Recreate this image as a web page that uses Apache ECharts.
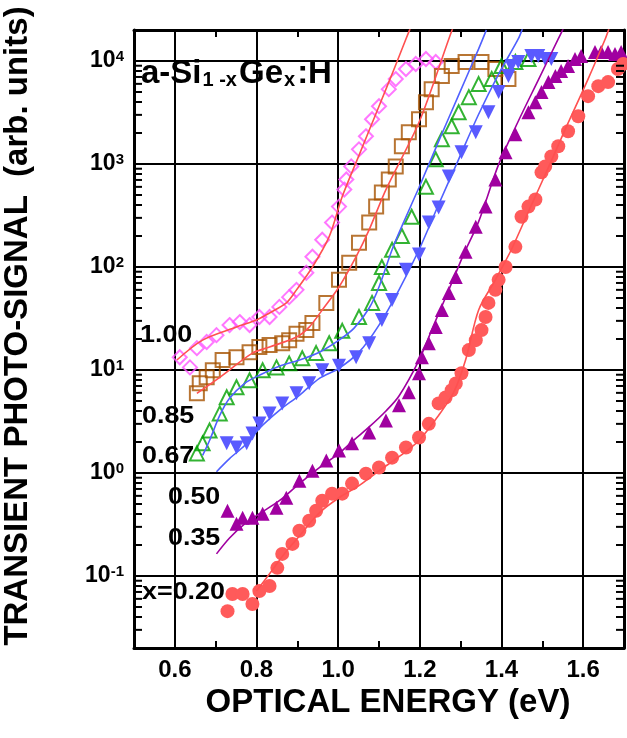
<!DOCTYPE html>
<html>
<head>
<meta charset="utf-8">
<script src="https://cdn.jsdelivr.net/npm/echarts@6/dist/echarts.min.js"></script>
<style>
html,body{margin:0;padding:0;background:#fff;}
#chart{width:627px;height:738px;}
</style>
</head>
<body>
<div id="chart"></div>
<script>
// ---- data (x = optical energy in eV, y = signal) ----
const pinkX = [0.612,0.637,0.654,0.678,0.702,0.734,0.759,0.783,0.807,0.832,0.856,0.880,0.898,0.922,0.937,0.961,0.985,1.002,1.015,1.020,1.032,1.051,1.068,1.083,1.100,1.124,1.141,1.166,1.190,1.215,1.239];
const pinkY = [13.3,10.6,16.3,18.7,21.8,27.3,29.2,27.3,32.7,32.7,41,51,60,88,126,184,270,386,565,708,948,1388,1857,2721,3642,5333,6680,8360,9360,10450,9780];

const brownX = [0.654,0.661,0.678,0.693,0.717,0.751,0.783,0.807,0.832,0.863,0.880,0.898,0.922,0.937,0.971,1.002,1.027,1.051,1.076,1.093,1.107,1.124,1.141,1.156,1.173,1.198,1.215,1.229,1.254,1.278,1.312,1.351,1.385,1.417];
const brownY = [5.94,7.43,8.5,9.96,12.5,13.3,14.9,16.7,17.5,18.2,19.5,22.5,24.4,28.6,44.8,75,110,172,270,386,529,708,948,1486,2033,2720,3980,5330,7140,8940,9780,9780,8360,6680];

const greenX = [0.654,0.668,0.685,0.710,0.727,0.751,0.783,0.815,0.849,0.880,0.912,0.946,0.978,1.010,1.051,1.083,1.100,1.107,1.132,1.156,1.180,1.215,1.239,1.254,1.278,1.295,1.320,1.344,1.376,1.400,1.434,1.466];
const greenY = [1.55,1.94,2.59,3.79,5.43,6.8,7.96,9.96,10.6,11.6,13.0,14.6,18.2,24,32.7,44.8,70,100,147,200,308,600,1110,1738,2328,3185,4457,5970,6680,8940,9780,10450];

const blueX = [0.727,0.751,0.776,0.790,0.807,0.832,0.863,0.898,0.929,0.961,1.002,1.044,1.076,1.107,1.132,1.166,1.198,1.222,1.246,1.271,1.302,1.337,1.368,1.393,1.417,1.424,1.441,1.473,1.490,1.507,1.522];
const blueY = [1.94,1.77,1.94,2.42,3.03,3.79,4.74,5.94,7.43,9.96,11,13.3,18.2,30.6,47.9,94,132,270,378,757,1297,2033,3185,4990,7140,8940,9780,11190,11190,10450,10450];

const purpleX = [0.729,0.751,0.766,0.790,0.815,0.849,0.873,0.905,0.937,0.971,1.002,1.034,1.076,1.117,1.149,1.173,1.198,1.205,1.222,1.239,1.254,1.271,1.288,1.312,1.337,1.361,1.385,1.410,1.434,1.466,1.483,1.498,1.515,1.532,1.546,1.563,1.580,1.595,1.629,1.644,1.661,1.678,1.693];
const purpleY = [0.43,0.321,0.367,0.367,0.402,0.46,0.575,0.843,1.05,1.32,1.65,1.94,2.48,3.24,4.54,6.08,9.3,13.3,18.2,26.1,38.3,56,80,141,246,386,708,1297,1945,3185,3980,4990,6240,7140,8000,8940,10450,11190,12250,12250,12250,11700,12250];

const salmonX = [0.729,0.741,0.766,0.790,0.807,0.832,0.851,0.863,0.888,0.905,0.929,0.946,0.961,0.985,1.010,1.034,1.068,1.100,1.132,1.166,1.198,1.222,1.246,1.263,1.278,1.288,1.302,1.320,1.337,1.351,1.361,1.368,1.385,1.393,1.410,1.434,1.449,1.466,1.483,1.498,1.507,1.522,1.539,1.563,1.588,1.612,1.637,1.661,1.685,1.698];
const salmonY = [0.0456,0.0668,0.0668,0.0534,0.0714,0.080,0.12,0.164,0.205,0.275,0.344,0.43,0.538,0.63,0.63,0.789,0.986,1.13,1.41,1.77,2.21,3.0,4.74,5.4,6.35,7.4,9.3,15.6,19.5,24.4,32.7,44.8,60,75,100,157,308,386,452,830,948,1186,1486,2080,2911,4560,5700,6240,8360,9360];

// fitted curves
const pinkFitX = [0.605,0.668,0.751,0.800,0.832,0.873,0.898,0.937,0.978,1.010,1.051,1.100,1.137,1.166,1.176];
const pinkFitY = [12.5,19.5,26.1,30.6,35.8,44.8,60,100,197,483,1213,3640,8360,16370,20500];
const brownFitX = [0.654,0.710,0.790,0.832,0.898,0.929,0.961,1.002,1.044,1.076,1.117,1.198,1.271,1.280];
const brownFitY = [5.94,8.5,14.6,16.7,20.9,26.1,38.3,64,126,231,565,2540,16370,20500];
const greenFitX = [0.668,0.685,0.710,0.734,0.771,0.807,0.856,0.905,0.954,1.002,1.039,1.076,1.100,1.132,1.161,1.198,1.246,1.295,1.344,1.363];
const greenFitY = [1.48,2.07,3.62,5.31,7.43,8.9,10.9,12.5,14.9,19.5,25.5,40,64,147,276,592,1660,4670,13100,20050];
const blueFitX = [0.702,0.734,0.771,0.807,0.856,0.905,0.954,1.002,1.051,1.100,1.149,1.198,1.246,1.295,1.344,1.393,1.441,1.451];
const blueFitY = [1.03,1.38,1.85,2.71,4.06,5.68,8.3,10.4,14.9,27.3,60,147,404,1110,3040,7460,16370,20500];
const purpleFitX = [0.702,0.734,0.771,0.807,0.856,0.905,0.954,1.002,1.039,1.076,1.117,1.149,1.198,1.234,1.271,1.307,1.344,1.393,1.441,1.490,1.539,1.551];
const purpleFitY = [0.164,0.234,0.321,0.402,0.538,0.789,1.13,1.55,2.1,2.8,4.0,5.6,12.5,27.3,60,132,276,991,2600,6530,16370,20500];
const salmonFitX = [0.800,0.832,0.868,0.905,0.954,1.002,1.051,1.100,1.149,1.198,1.246,1.283,1.312,1.344,1.385,1.424,1.466,1.515,1.556,1.612,1.654,1.663];
const salmonFitY = [0.0714,0.105,0.164,0.245,0.411,0.575,0.753,1.05,1.44,2.07,3.62,6.08,12.5,38.3,75,147,345,927,2170,6680,16370,20500];

// axis tick values
const yMinorTicks = [0.03,0.04,0.05,0.06,0.07,0.08,0.09,0.2,0.3,0.4,0.5,0.6,0.7,0.8,0.9,2,3,4,5,6,7,8,9,20,30,40,50,60,70,80,90,200,300,400,500,600,700,800,900,2000,3000,4000,5000,6000,7000,8000,9000];
const curveLabels = ['1.00','0.85','0.67','0.50','0.35','x=0.20'];

const FONT = '"Liberation Sans", Arial, Helvetica, sans-serif';
const zip = (a, b) => a.map((v, i) => [v, b[i]]);

function scatter(name, xs, ys, symbol, color, hollow, rotate) {
  return {
    name, type: 'scatter', data: zip(xs, ys), symbol, symbolSize: 14,
    symbolRotate: rotate || 0, z: 2, silent: true,
    itemStyle: hollow ? {color: 'rgba(0,0,0,0)', borderColor: color, borderWidth: 2}
                      : {color: color, opacity: 1}
  };
}
function fit(name, xs, ys, color) {
  return {
    name, type: 'line', data: zip(xs, ys), showSymbol: false, symbol: 'none',
    smooth: 0.3, z: 3, silent: true, lineStyle: {color: color, width: 1.6}
  };
}

const chart = echarts.init(document.getElementById('chart'), null, {renderer: 'canvas'});
const tickAxis = (pos) => ({
  type: 'value', min: 0.5, max: 1.7, interval: 0.1, position: pos,
  axisLine: {show: pos === 'top', onZero: false, lineStyle: {color: '#000', width: 3}},
  axisTick: {show: true, inside: true, length: 7, lineStyle: {color: '#000', width: 2}},
  axisLabel: {show: false}, splitLine: {show: false}
});

const option = {
  animation: false,
  backgroundColor: '#fff',
  grid: {left: 134, right: 0, top: 30, bottom: 90},
  xAxis: [
    {
      type: 'value', min: 0.5, max: 1.7, splitNumber: 6, position: 'bottom',
      axisLine: {show: true, onZero: false, lineStyle: {color: '#000', width: 3}},
      axisTick: {show: false},
      splitLine: {show: true, lineStyle: {color: '#000', width: 2}},
      axisLabel: {
        color: '#000', fontSize: 24, fontWeight: 'bold', fontFamily: FONT, margin: 10,
        formatter: v => (Math.abs(v * 5 - Math.round(v * 5)) < 1e-6) ? v.toFixed(1) : ''
      }
    },
    tickAxis('top'),
    tickAxis('bottom')
  ],
  yAxis: [
    {
      type: 'log', logBase: 10, min: 0.02, max: 20000, position: 'left',
      axisLine: {show: true, onZero: false, lineStyle: {color: '#000', width: 3}},
      axisTick: {show: false},
      splitLine: {show: true, lineStyle: {color: '#000', width: 2}},
      axisLabel: {
        color: '#000', fontSize: 23, fontWeight: 'bold', fontFamily: FONT, margin: 10, lineHeight: 24,
        formatter: v => {
          const l = Math.log10(v), e = Math.round(l);
          if (Math.abs(l - e) > 1e-6) return '';
          return '10{s|' + e + '}';
        },
        rich: {s: {fontSize: 15, fontWeight: 'bold', fontFamily: FONT, color: '#000', verticalAlign: 'top', lineHeight: 24}}
      }
    },
    {
      type: 'log', logBase: 10, min: 0.02, max: 20000, position: 'right',
      axisLine: {show: true, onZero: false, lineStyle: {color: '#000', width: 3}},
      axisTick: {show: false}, axisLabel: {show: false}, splitLine: {show: false}
    }
  ],
  series: [
    scatter('x=1.00', pinkX, pinkY, 'diamond', '#ff55ff', true),
    scatter('x=0.85', brownX, brownY, 'rect', '#a65200', true),
    scatter('x=0.67', greenX, greenY, 'triangle', '#00a000', true),
    scatter('x=0.50', blueX, blueY, 'triangle', '#5a5aff', false, 180),
    scatter('x=0.35', purpleX, purpleY, 'triangle', '#a000a0', false),
    scatter('x=0.20', salmonX, salmonY, 'circle', '#ff5a5a', false),
    fit('fit 1.00', pinkFitX, pinkFitY, '#ff5050'),
    fit('fit 0.85', brownFitX, brownFitY, '#ff5050'),
    fit('fit 0.67', greenFitX, greenFitY, '#5060ff'),
    fit('fit 0.50', blueFitX, blueFitY, '#5060ff'),
    fit('fit 0.35', purpleFitX, purpleFitY, '#a000a0'),
    fit('fit 0.20', salmonFitX, salmonFitY, '#ff5050'),
    {
      name: 'minor ticks', type: 'custom', silent: true, z: 5, clip: false,
      data: yMinorTicks.map(v => [0.5, v]),
      renderItem: (params, api) => {
        const v = api.value(1);
        const p = api.coord([0.5, v]);
        const q = api.coord([1.7, v]);
        return {
          type: 'group',
          children: [
            {type: 'line', shape: {x1: p[0], y1: p[1], x2: p[0] + 8, y2: p[1]}, style: {stroke: '#000', lineWidth: 2}},
            {type: 'line', shape: {x1: q[0] - 8, y1: q[1], x2: q[0], y2: q[1]}, style: {stroke: '#000', lineWidth: 2}}
          ]
        };
      }
    }
  ],
  graphic: [
    {
      type: 'text', x: 18, y: 326, rotation: Math.PI / 2, silent: true,
      style: {text: 'TRANSIENT PHOTO-SIGNAL  (arb. units)', fill: '#000', fontSize: 33, fontWeight: 'bold', fontFamily: FONT,
              align: 'center', verticalAlign: 'middle', textAlign: 'center', textVerticalAlign: 'middle'}
    },
    {
      type: 'text', x: 388, y: 703, silent: true,
      style: {text: 'OPTICAL ENERGY (eV)', fill: '#000', fontSize: 33, fontWeight: 'bold', fontFamily: FONT,
              align: 'center', verticalAlign: 'middle', textAlign: 'center', textVerticalAlign: 'middle'}
    },
    {
      type: 'text', x: 141, y: 73, silent: true, z: 10,
      style: {
        text: '{m|a-Si}{b|1 -x}{m|Ge}{b|x}{m|:H}', fill: '#000', verticalAlign: 'middle', textVerticalAlign: 'middle',
        rich: {
          m: {fontSize: 33, fontWeight: 'bold', fontFamily: FONT, fill: '#000', color: '#000', verticalAlign: 'bottom', lineHeight: 34},
          b: {fontSize: 20, fontWeight: 'bold', fontFamily: FONT, fill: '#000', color: '#000', verticalAlign: 'bottom', lineHeight: 34, padding: [0, 2, 0, 1]}
        }
      }
    },
    ...[[140, 335], [142, 416], [142, 456], [168, 497], [168, 538], [142, 592]].map((p, i) => ({
      type: 'text', x: p[0], y: p[1], scaleX: 1.12, silent: true, z: 10,
      style: {text: curveLabels[i], fill: '#000', fontSize: 24, fontWeight: 'bold', fontFamily: FONT,
              verticalAlign: 'middle', textVerticalAlign: 'middle'}
    }))
  ]
};
chart.setOption(option);
</script>
</body>
</html>
